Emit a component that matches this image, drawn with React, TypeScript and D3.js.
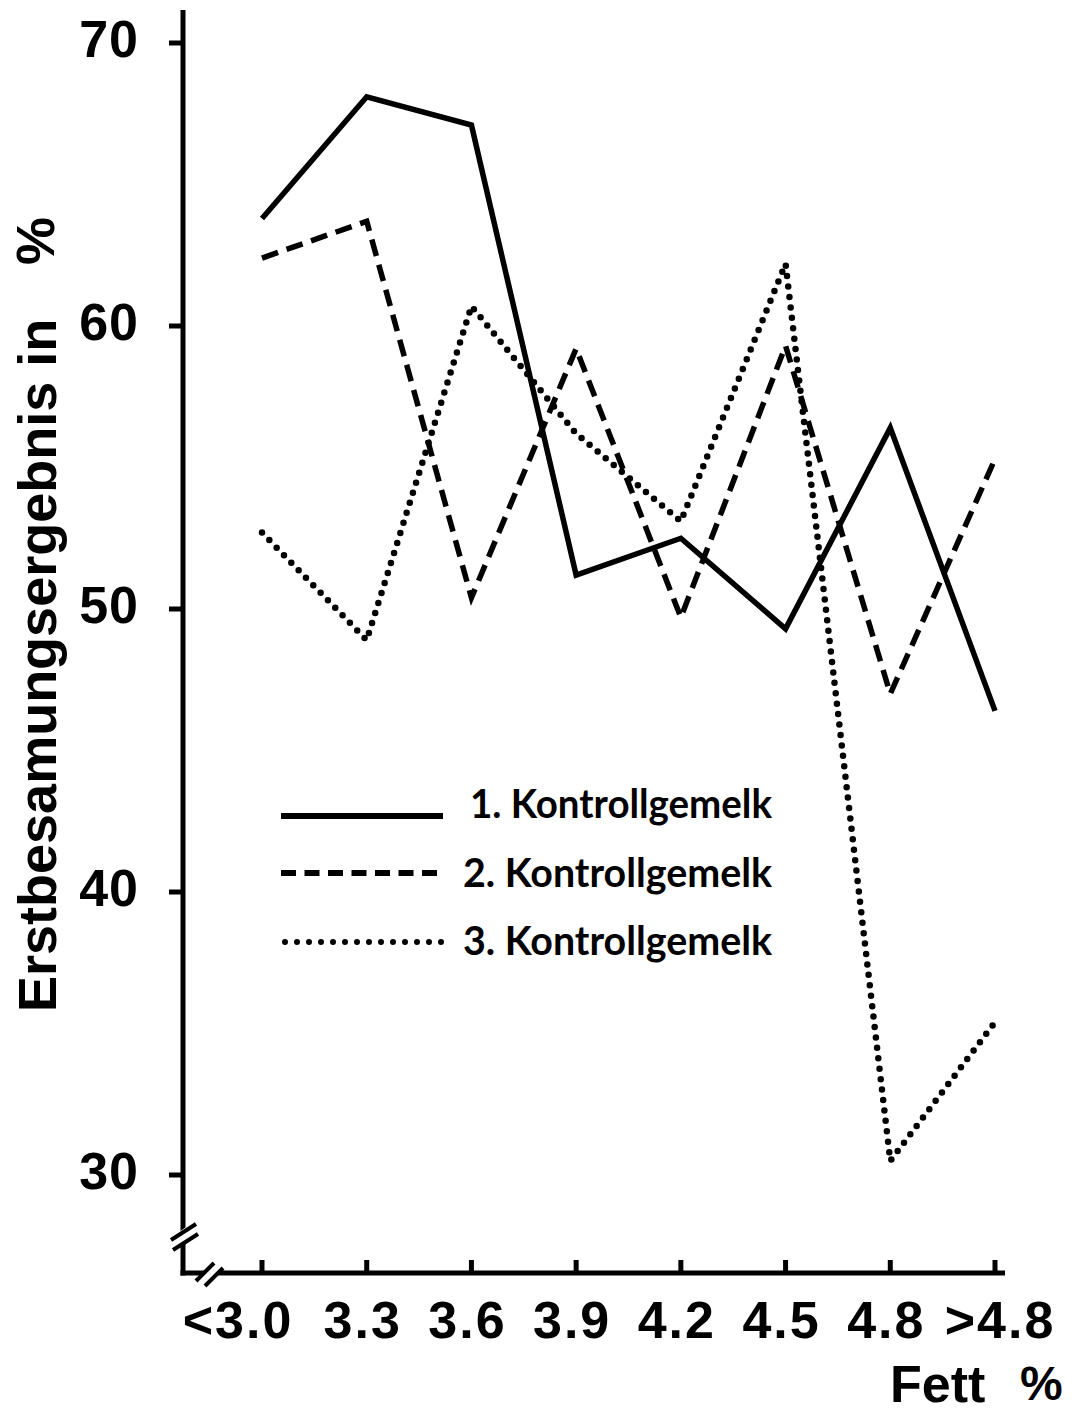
import React from "react";
import * as d3 from "d3";

const categories = ["<3.0", "3.3", "3.6", "3.9", "4.2", "4.5", "4.8", ">4.8"];
const series1 = [63.8, 68.1, 67.1, 51.2, 52.5, 49.3, 56.4, 46.4];
const series2 = [62.4, 63.7, 50.4, 59.2, 49.7, 59.3, 47.0, 55.3];
const series3 = [52.7, 48.9, 60.7, 56.2, 53.1, 62.2, 30.5, 35.4];
const yTicks = [70, 60, 50, 40, 30];
const legendLabels = ["1. Kontrollgemelk", "2. Kontrollgemelk", "3. Kontrollgemelk"];
const yTitle = "Erstbesamungsergebnis in";
const xTitle = "Fett";

const W = 1080;
const H = 1412;
const axisX = 183;
const axisY = 1273;

const x = d3.scalePoint<string>().domain(categories).range([262, 995]);
const y = d3.scaleLinear().domain([30, 70]).range([1175, 43]);

const styles = [
  { dash: "none", cap: "butt" as const, width: 5.5 },
  { dash: "17 9", cap: "butt" as const, width: 5.5 },
  { dash: "0 10.5", cap: "round" as const, width: 6.5 },
];

export default function App() {
  const line = d3
    .line<number>()
    .x((_, i) => x(categories[i]) as number)
    .y((d) => y(d));
  const all = [series1, series2, series3];
  const tickFont = "'Liberation Sans', Arial, sans-serif";
  return (
    <svg
      width={W}
      height={H}
      viewBox={`0 0 ${W} ${H}`}
      style={{ position: "absolute", left: 0, top: 0, background: "#fff" }}
    >
      <rect x={0} y={0} width={W} height={H} fill="#fff" />
      {/* axes */}
      <line x1={axisX} y1={10} x2={axisX} y2={axisY + 2.5} stroke="#000" strokeWidth={5} />
      <line x1={axisX - 2.5} y1={axisY} x2={1005} y2={axisY} stroke="#000" strokeWidth={5} />
      {/* y break */}
      <polygon points="170,1238 198,1219 200,1233 172,1252" fill="#fff" />
      <line x1={171} y1={1240} x2={196} y2={1224} stroke="#000" strokeWidth={4} />
      <line x1={173} y1={1250} x2={198} y2={1234} stroke="#000" strokeWidth={4} />
      {/* x break */}
      <polygon points="196,1282 214,1262 224,1266 206,1286" fill="#fff" />
      <line x1={196} y1={1281} x2={214} y2={1263} stroke="#000" strokeWidth={4} />
      <line x1={205} y1={1286} x2={223} y2={1268} stroke="#000" strokeWidth={4} />
      {/* y ticks */}
      {yTicks.map((t) => (
        <g key={t}>
          <line x1={169} x2={axisX} y1={y(t)} y2={y(t)} stroke="#000" strokeWidth={5} />
          <text
            x={139}
            y={y(t) + 14}
            textAnchor="end"
            fontFamily={tickFont}
            fontWeight="bold"
            fontSize={52}
            letterSpacing={1}
          >
            {t}
          </text>
        </g>
      ))}
      {/* x ticks */}
      {categories.map((c, i) => {
        const cx = x(c) as number;
        const lx = i === 0 ? 238 : i === categories.length - 1 ? 1000 : cx - 4;
        return (
          <g key={c}>
            <line x1={cx} x2={cx} y1={1260} y2={axisY} stroke="#000" strokeWidth={5} />
            <text
              x={lx}
              y={1338}
              textAnchor="middle"
              fontFamily={tickFont}
              fontWeight="bold"
              fontSize={52}
              letterSpacing={2}
            >
              {c}
            </text>
          </g>
        );
      })}
      {/* axis titles */}
      <text
        transform="translate(56,1012) rotate(-90)"
        fontFamily={tickFont}
        fontWeight="bold"
        fontSize={54}
      >
        {yTitle}
      </text>
      <text
        transform="translate(54,265) rotate(-90)"
        fontFamily={tickFont}
        fontWeight="bold"
        fontSize={54}
      >
        %
      </text>
      <text x={890} y={1402} fontFamily={tickFont} fontWeight="bold" fontSize={52}>
        {xTitle}
      </text>
      <text x={1020} y={1400} fontFamily={tickFont} fontWeight="bold" fontSize={48}>
        %
      </text>
      {/* series */}
      {all.map((s, i) => (
        <path
          key={i}
          d={line(s) || ""}
          fill="none"
          stroke="#000"
          strokeWidth={styles[i].width}
          strokeDasharray={styles[i].dash}
          strokeLinecap={styles[i].cap}
          strokeLinejoin="miter"
        />
      ))}
      {/* legend */}
      {legendLabels.map((lab, i) => {
        const ly = [816, 873, 942][i];
        const ty = [818, 887, 955][i];
        return (
          <g key={lab}>
            <line
              x1={i === 2 ? 285 : 281}
              x2={443}
              y1={ly}
              y2={ly}
              stroke="#000"
              strokeWidth={i === 2 ? 6 : 6}
              strokeDasharray={i === 1 ? "15 8.5" : i === 2 ? "0 12" : "none"}
              strokeLinecap={i === 2 ? "round" : "butt"}
            />
            <text
              x={i === 0 ? 470 : 463}
              y={ty}
              fontFamily="Lato, 'Noto Sans', sans-serif"
              fontWeight="bold"
              fontSize={41}
              textLength={i === 0 ? 302 : 309}
              lengthAdjust="spacingAndGlyphs"
            >
              {lab}
            </text>
          </g>
        );
      })}
    </svg>
  );
}
